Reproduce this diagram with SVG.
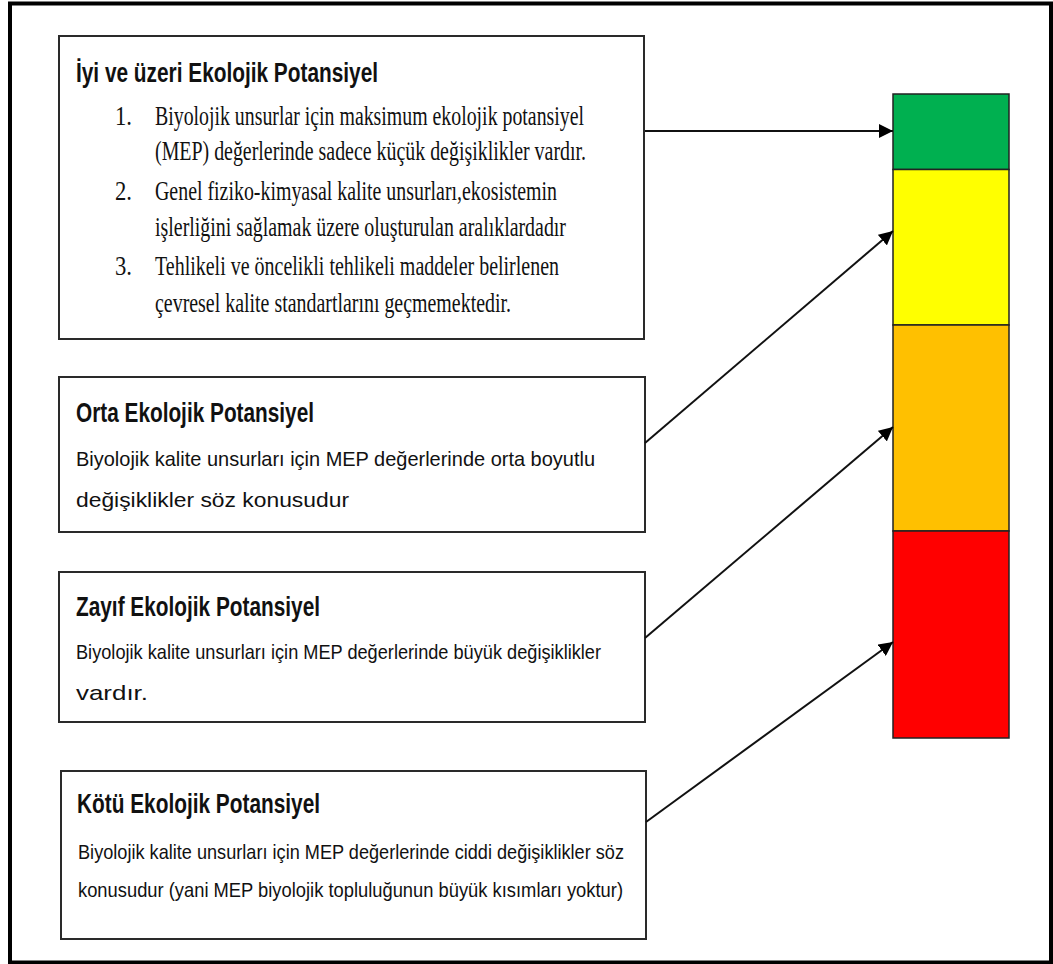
<svg xmlns="http://www.w3.org/2000/svg" width="1053" height="964" viewBox="0 0 1053 964">
<defs>
<style>
.frame{fill:#fff;stroke:#000;stroke-width:4}
.box{fill:#fff;stroke:#2a2a2a;stroke-width:2}
.bar{stroke:#222;stroke-width:1.5}
.t{font-family:"Liberation Sans",Arial,sans-serif;font-weight:bold;font-size:27px;fill:#111}
.b{font-family:"Liberation Sans",Arial,sans-serif;font-size:21px;fill:#111}
.s{font-family:"Liberation Serif","Times New Roman",serif;font-size:28px;fill:#111}
.conn{stroke:#111;stroke-width:2;fill:none;marker-end:url(#ah)}
</style>
<marker id="ah" markerUnits="userSpaceOnUse" markerWidth="14" markerHeight="14" refX="14" refY="7" orient="auto">
<path d="M0,0 L14,7 L0,14 Z" fill="#000"/>
</marker>
</defs>
<rect class="frame" x="10" y="3.5" width="1041" height="959"/>

<g id="box1">
<rect class="box" x="59" y="36" width="585" height="303"/>
<text class="t" x="76" y="82" textLength="302" lengthAdjust="spacingAndGlyphs">İyi ve üzeri Ekolojik Potansiyel</text>
<text class="s" x="115" y="125" textLength="17" lengthAdjust="spacingAndGlyphs">1.</text>
<text class="s" x="155" y="125" textLength="429" lengthAdjust="spacingAndGlyphs">Biyolojik unsurlar için maksimum ekolojik potansiyel</text>
<text class="s" x="155" y="160" textLength="431" lengthAdjust="spacingAndGlyphs">(MEP) değerlerinde sadece küçük değişiklikler vardır.</text>
<text class="s" x="115" y="200" textLength="17" lengthAdjust="spacingAndGlyphs">2.</text>
<text class="s" x="155" y="200" textLength="402" lengthAdjust="spacingAndGlyphs">Genel fiziko-kimyasal kalite unsurları,ekosistemin</text>
<text class="s" x="155" y="236" textLength="411" lengthAdjust="spacingAndGlyphs">işlerliğini sağlamak üzere oluşturulan aralıklardadır</text>
<text class="s" x="115" y="275" textLength="17" lengthAdjust="spacingAndGlyphs">3.</text>
<text class="s" x="155" y="275" textLength="404" lengthAdjust="spacingAndGlyphs">Tehlikeli ve öncelikli tehlikeli maddeler belirlenen</text>
<text class="s" x="155" y="312" textLength="356" lengthAdjust="spacingAndGlyphs">çevresel kalite standartlarını geçmemektedir.</text>
</g>

<g id="box2">
<rect class="box" x="59" y="377" width="586" height="155"/>
<text class="t" x="76" y="422" textLength="238" lengthAdjust="spacingAndGlyphs">Orta Ekolojik Potansiyel</text>
<text class="b" x="76" y="466" textLength="519" lengthAdjust="spacingAndGlyphs">Biyolojik kalite unsurları için MEP değerlerinde orta boyutlu</text>
<text class="b" x="76" y="507" textLength="273" lengthAdjust="spacingAndGlyphs">değişiklikler söz konusudur</text>
</g>

<g id="box3">
<rect class="box" x="59" y="572" width="586" height="150"/>
<text class="t" x="76" y="616" textLength="244" lengthAdjust="spacingAndGlyphs">Zayıf Ekolojik Potansiyel</text>
<text class="b" x="76" y="659" textLength="525" lengthAdjust="spacingAndGlyphs">Biyolojik kalite unsurları için MEP değerlerinde büyük değişiklikler</text>
<text class="b" x="76" y="700" textLength="72" lengthAdjust="spacingAndGlyphs">vardır.</text>
</g>

<g id="box4">
<rect class="box" x="61" y="771" width="585" height="168"/>
<text class="t" x="77" y="813" textLength="243" lengthAdjust="spacingAndGlyphs">Kötü Ekolojik Potansiyel</text>
<text class="b" x="78" y="859" textLength="546" lengthAdjust="spacingAndGlyphs">Biyolojik kalite unsurları için MEP değerlerinde ciddi değişiklikler söz</text>
<text class="b" x="78" y="897" textLength="545" lengthAdjust="spacingAndGlyphs">konusudur (yani MEP biyolojik topluluğunun büyük kısımları yoktur)</text>
</g>

<g id="scale">
<rect class="bar" x="893" y="94" width="116" height="75.5" fill="#00B050"/>
<rect class="bar" x="893" y="169.5" width="116" height="155.5" fill="#FFFF00"/>
<rect class="bar" x="893" y="325" width="116" height="206" fill="#FFC000"/>
<rect class="bar" x="893" y="531" width="116" height="207" fill="#FF0000"/>
</g>

<g id="connectors">
<line class="conn" x1="645" y1="131" x2="893" y2="131"/>
<line class="conn" x1="645" y1="443" x2="893" y2="231"/>
<line class="conn" x1="645" y1="638" x2="893" y2="427"/>
<line class="conn" x1="646" y1="822" x2="893" y2="642"/>
</g>
</svg>
